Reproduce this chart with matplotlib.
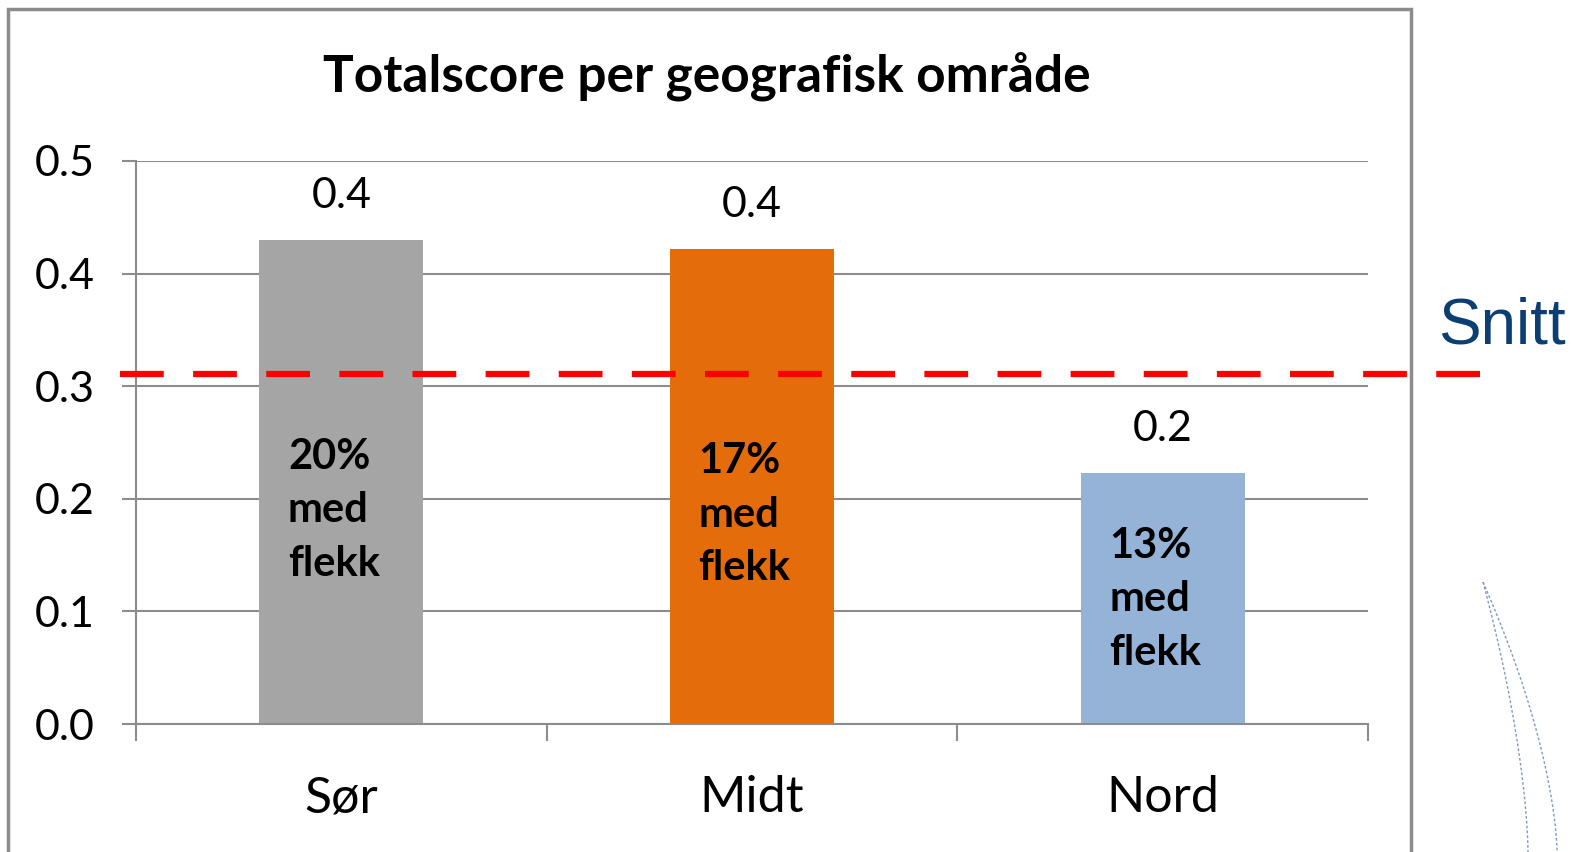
import numpy as np
import matplotlib
matplotlib.use("Agg")
import matplotlib.pyplot as plt
from matplotlib.patches import Rectangle
from matplotlib.lines import Line2D

# Data
regions = ["Sør", "Midt", "Nord"]
scores = [0.430, 0.422, 0.223]
share_labels = ["20%\nmed\nflekk", "17%\nmed\nflekk", "13%\nmed\nflekk"]
average = 0.311
yticks = [0.0, 0.1, 0.2, 0.3, 0.4, 0.5]

colors = ["#A5A5A5", "#E46C0A", "#95B3D7"]
label_y = [0.19, 0.186, 0.111]  # centre of the text box inside each bar

plt.rcParams["font.family"] = ["Lato", "DejaVu Sans"]

fig = plt.figure(figsize=(15.75, 8.52), dpi=100)
ax = fig.add_axes([136 / 1575, 1 - 724 / 852, 1232 / 1575, 563 / 852])

x = np.arange(len(regions))
bars = ax.bar(x, scores, width=0.40, color=colors, zorder=2)

# value labels above the bars
for xi, v in zip(x, scores):
    ax.annotate(f"{v:.1f}", (xi, v), xytext=(0, 18), textcoords="offset points",
                ha="center", va="bottom", fontsize=31, color="black")

# text inside the bars
for xi, txt, ly in zip(x, share_labels, label_y):
    ax.text(xi - 0.13, ly, txt, ha="left", va="center", fontsize=30,
            fontweight="bold", linespacing=1.5, zorder=3)

# average line (extends beyond the plot box)
ax.plot([-0.54, 2.84], [average, average], color="#FF0000", lw=4.5,
        dashes=(7, 4.7), clip_on=False, zorder=4)

ax.set_xlim(-0.5, 2.5)
ax.set_ylim(0, 0.5)
ax.set_yticks(yticks)
ax.set_yticklabels([f"{t:.1f}" for t in yticks])
ax.yaxis.grid(True, color="#8C8C8C", lw=1.5, zorder=0)
ax.set_axisbelow(True)

ax.set_xticks(np.arange(-0.5, 3.0, 1.0))
ax.set_xticklabels([])
ax.set_xticks(x, minor=True)
ax.set_xticklabels(regions, minor=True)
ax.tick_params(axis="x", which="major", length=12, width=1.5, color="#8C8C8C", direction="out")
ax.tick_params(axis="x", which="minor", length=0, pad=37, labelsize=36)
ax.tick_params(axis="y", length=10, width=1.5, color="#8C8C8C", pad=20, labelsize=31)

for s in ["top", "right"]:
    ax.spines[s].set_visible(False)
for s in ["left", "bottom"]:
    ax.spines[s].set_color("#8C8C8C")
    ax.spines[s].set_linewidth(1.5)

fig.text(707 / 1575, 1 - 76 / 852, "Totalscore per geografisk område", ha="center",
         va="center", fontsize=37, fontweight="bold")

# chart frame
fig.patches.append(Rectangle((8 / 1575, -0.05), 1403 / 1575, 1.05 - 9 / 852,
                             transform=fig.transFigure, fill=False,
                             edgecolor="#8C8C8C", lw=2.5))

fig.text(1438 / 1575, 1 - 326 / 852, "Snitt", ha="left", va="center",
         fontsize=46, color="#0B3F73", family=["Liberation Sans", "DejaVu Sans"])

# decorative dotted arcs
t = np.linspace(0, 1, 60)
for end in (1528, 1557):
    xs = 1483 + (end - 1483) * (1 - (1 - t) ** 1.6)
    ys = 582 + (852 - 582) * t
    fig.lines.append(Line2D(xs / 1575, 1 - ys / 852, transform=fig.transFigure,
                            color="#7F9DB9", lw=1.0, ls=(0, (2, 1.5))))

fig.savefig("out.png", dpi=100)
